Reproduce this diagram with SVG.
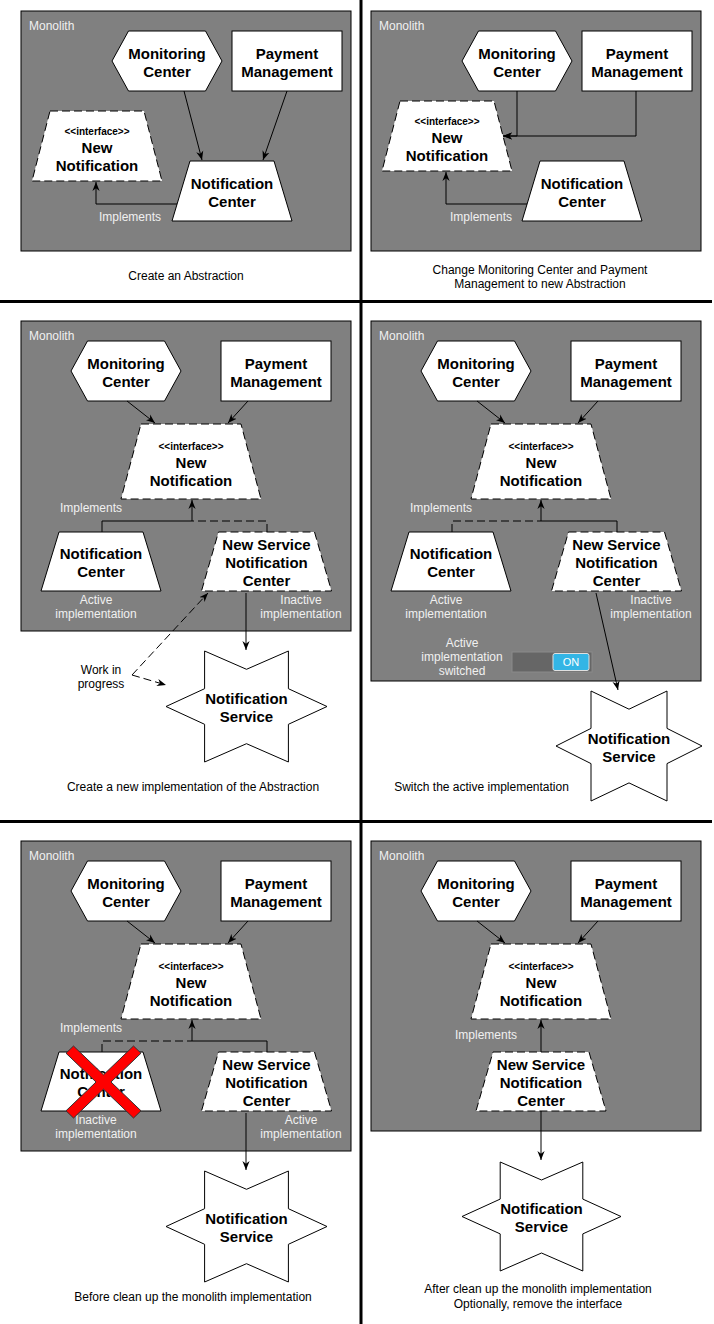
<svg xmlns="http://www.w3.org/2000/svg" width="714" height="1324" viewBox="0 0 714 1324">
<style>
.mono{fill:#808080;stroke:#000;stroke-width:1}
.box{fill:#fff;stroke:#000;stroke-width:1}
.dbox{fill:#fff;stroke:#000;stroke-width:1;stroke-dasharray:8 4}
.node{font-family:"Liberation Sans",Arial,sans-serif;font-weight:bold;font-size:15px;fill:#000;text-anchor:middle}
.stereo{font-family:"Liberation Sans",Arial,sans-serif;font-weight:bold;font-size:10px;fill:#000;text-anchor:middle}
.lbl{font-family:"Liberation Sans",Arial,sans-serif;font-size:12px;fill:#f0f0f0;text-anchor:middle}
.mlbl{font-family:"Liberation Sans",Arial,sans-serif;font-size:12px;fill:#f0f0f0}
.cap{font-family:"Liberation Sans",Arial,sans-serif;font-size:12px;fill:#000;text-anchor:middle}
.edge{fill:none;stroke:#000;stroke-width:1}
.arr{marker-end:url(#ah)}
.dash{stroke-dasharray:8 4}
.div{stroke:#000;stroke-width:3}
</style>
<defs>
<marker id="ah" viewBox="0 0 10 10" refX="10" refY="5" markerWidth="9" markerHeight="9" markerUnits="userSpaceOnUse" orient="auto">
<path d="M0,1 L10,5 L0,9 L3,5 z" fill="#000"/>
</marker>
</defs>
<rect width="714" height="1324" fill="#fff"/>

<g id="dividers">
<line class="div" x1="361" y1="0" x2="361" y2="1324"/>
<line class="div" x1="0" y1="301.5" x2="712" y2="301.5"/>
<line class="div" x1="0" y1="821.5" x2="712" y2="821.5"/>
</g>

<!-- Panel 1 -->
<g id="monolith1"><rect class="mono" x="21" y="11" width="330" height="240"/><text class="mlbl" x="29" y="30">Monolith</text></g>
<g id="mc1"><polygon class="box" points="112,61 128.5,31 205.5,31 222,61 205.5,91 128.5,91"/><text class="node" x="167" y="59">Monitoring</text><text class="node" x="167" y="77">Center</text></g>
<g id="pm1"><rect class="box" x="232" y="31" width="110" height="60"/><text class="node" x="287" y="59">Payment</text><text class="node" x="287" y="77">Management</text></g>
<g id="nn1"><polygon class="dbox" points="50,111 144,111 162,181 32,181"/><text class="stereo" x="97" y="135">&lt;&lt;interface&gt;&gt;</text><text class="node" x="97" y="153">New</text><text class="node" x="97" y="171">Notification</text></g>
<g id="nc1"><polygon class="box" points="190,161 274,161 292,221 172,221"/><text class="node" x="232" y="189">Notification</text><text class="node" x="232" y="207">Center</text></g>
<g id="labels1"><text class="lbl" x="130" y="221">Implements</text><text class="cap" x="186" y="280">Create an Abstraction</text></g>

<!-- Panel 2 -->
<g id="monolith2"><rect class="mono" x="371" y="11" width="330" height="240"/><text class="mlbl" x="379" y="30">Monolith</text></g>
<g id="mc2"><polygon class="box" points="462,61 478.5,31 555.5,31 572,61 555.5,91 478.5,91"/><text class="node" x="517" y="59">Monitoring</text><text class="node" x="517" y="77">Center</text></g>
<g id="pm2"><rect class="box" x="582" y="31" width="110" height="60"/><text class="node" x="637" y="59">Payment</text><text class="node" x="637" y="77">Management</text></g>
<g id="nn2"><polygon class="dbox" points="400,101 494,101 512,171 382,171"/><text class="stereo" x="447" y="125">&lt;&lt;interface&gt;&gt;</text><text class="node" x="447" y="143">New</text><text class="node" x="447" y="161">Notification</text></g>
<g id="nc2"><polygon class="box" points="540,161 624,161 642,221 522,221"/><text class="node" x="582" y="189">Notification</text><text class="node" x="582" y="207">Center</text></g>
<g id="labels2"><text class="lbl" x="481" y="221">Implements</text><text class="cap" x="540" y="274">Change Monitoring Center and Payment</text><text class="cap" x="540" y="288">Management to new Abstraction</text></g>

<!-- Panel 3 -->
<g id="monolith3"><rect class="mono" x="21" y="321" width="330" height="310"/><text class="mlbl" x="29" y="340">Monolith</text></g>
<g id="mc3"><polygon class="box" points="71,371 87.5,341 164.5,341 181,371 164.5,401 87.5,401"/><text class="node" x="126" y="369">Monitoring</text><text class="node" x="126" y="387">Center</text></g>
<g id="pm3"><rect class="box" x="221" y="341" width="110" height="60"/><text class="node" x="276" y="369">Payment</text><text class="node" x="276" y="387">Management</text></g>
<g id="nn3"><polygon class="dbox" points="141,424 241,424 261,499 121,499"/><text class="stereo" x="191" y="450">&lt;&lt;interface&gt;&gt;</text><text class="node" x="191" y="468">New</text><text class="node" x="191" y="486">Notification</text></g>
<g id="nc3"><polygon class="box" points="59,532 143,532 161,591 41,591"/><text class="node" x="101" y="559">Notification</text><text class="node" x="101" y="577">Center</text></g>
<g id="nsnc3"><polygon class="dbox" points="218.5,532 314.5,532 331.5,591 201.5,591"/><text class="node" x="266.5" y="550">New Service</text><text class="node" x="266.5" y="568">Notification</text><text class="node" x="266.5" y="586">Center</text></g>
<g id="ns3"><polygon class="box" points="204.6,651 246.5,669.3 288.4,651 288.4,688.7 327,706.5 288.4,724.3 288.4,762 246.5,743.7 204.6,762 204.6,724.3 166,706.5 204.6,688.7"/><text class="node" x="246.5" y="704">Notification</text><text class="node" x="246.5" y="722">Service</text></g>
<g id="labels3">
<text class="lbl" x="91" y="512">Implements</text>
<text class="lbl" x="96" y="603.5">Active</text><text class="lbl" x="96" y="617.5">implementation</text>
<text class="lbl" x="301" y="603.5">Inactive</text><text class="lbl" x="301" y="617.5">implementation</text>
<text class="cap" x="101" y="674">Work in</text><text class="cap" x="101" y="688">progress</text>
<text class="cap" x="193" y="791">Create a new implementation of the Abstraction</text>
</g>

<!-- Panel 4 -->
<g id="monolith4"><rect class="mono" x="371" y="321" width="330" height="360"/><text class="mlbl" x="379" y="340">Monolith</text></g>
<g id="mc4"><polygon class="box" points="421,371 437.5,341 514.5,341 531,371 514.5,401 437.5,401"/><text class="node" x="476" y="369">Monitoring</text><text class="node" x="476" y="387">Center</text></g>
<g id="pm4"><rect class="box" x="571" y="341" width="110" height="60"/><text class="node" x="626" y="369">Payment</text><text class="node" x="626" y="387">Management</text></g>
<g id="nn4"><polygon class="dbox" points="491,424 591,424 611,499 471,499"/><text class="stereo" x="541" y="450">&lt;&lt;interface&gt;&gt;</text><text class="node" x="541" y="468">New</text><text class="node" x="541" y="486">Notification</text></g>
<g id="nc4"><polygon class="box" points="409,532 493,532 511,591 391,591"/><text class="node" x="451" y="559">Notification</text><text class="node" x="451" y="577">Center</text></g>
<g id="nsnc4"><polygon class="dbox" points="568.5,532 664.5,532 681.5,591 551.5,591"/><text class="node" x="616.5" y="550">New Service</text><text class="node" x="616.5" y="568">Notification</text><text class="node" x="616.5" y="586">Center</text></g>
<g id="toggle4"><rect x="512" y="652" width="80" height="20" fill="#666" stroke="#8a8a8a" stroke-width="1"/><rect x="553" y="653.5" width="36" height="17" rx="2" fill="#33b5e5" stroke="#e0e0e0" stroke-width="1"/><text x="571" y="666" font-family="'Liberation Sans',Arial,sans-serif" font-size="11" fill="#fff" text-anchor="middle">ON</text></g>
<g id="ns4"><polygon class="box" points="591,691 629,709.2 667,691 667,728.4 702,746 667,763.6 667,801 629,782.9 591,801 591,763.6 556,746 591,728.4"/><text class="node" x="629" y="744">Notification</text><text class="node" x="629" y="762">Service</text></g>
<g id="labels4">
<text class="lbl" x="441" y="512">Implements</text>
<text class="lbl" x="446" y="603.5">Active</text><text class="lbl" x="446" y="617.5">implementation</text>
<text class="lbl" x="651" y="603.5">Inactive</text><text class="lbl" x="651" y="617.5">implementation</text>
<text class="lbl" x="462" y="647">Active</text><text class="lbl" x="462" y="661">implementation</text><text class="lbl" x="462" y="675">switched</text>
<text class="cap" x="481.5" y="791">Switch the active implementation</text>
</g>

<!-- Panel 5 -->
<g id="monolith5"><rect class="mono" x="21" y="841" width="330" height="310"/><text class="mlbl" x="29" y="860">Monolith</text></g>
<g id="mc5"><polygon class="box" points="71,891 87.5,861 164.5,861 181,891 164.5,921 87.5,921"/><text class="node" x="126" y="889">Monitoring</text><text class="node" x="126" y="907">Center</text></g>
<g id="pm5"><rect class="box" x="221" y="861" width="110" height="60"/><text class="node" x="276" y="889">Payment</text><text class="node" x="276" y="907">Management</text></g>
<g id="nn5"><polygon class="dbox" points="141,944 241,944 261,1019 121,1019"/><text class="stereo" x="191" y="970">&lt;&lt;interface&gt;&gt;</text><text class="node" x="191" y="988">New</text><text class="node" x="191" y="1006">Notification</text></g>
<g id="nc5"><polygon class="box" points="59,1052 143,1052 161,1111 41,1111"/><text class="node" x="101" y="1079">Notification</text><text class="node" x="101" y="1097">Center</text></g>
<g id="nsnc5"><polygon class="dbox" points="218.5,1052 314.5,1052 331.5,1111 201.5,1111"/><text class="node" x="266.5" y="1070">New Service</text><text class="node" x="266.5" y="1088">Notification</text><text class="node" x="266.5" y="1106">Center</text></g>
<g id="ns5"><polygon class="box" points="204.6,1171 246.5,1189.3 288.4,1171 288.4,1208.7 327,1226.5 288.4,1244.3 288.4,1282 246.5,1263.7 204.6,1282 204.6,1244.3 166,1226.5 204.6,1208.7"/><text class="node" x="246.5" y="1224">Notification</text><text class="node" x="246.5" y="1242">Service</text></g>
<g id="labels5">
<text class="lbl" x="91" y="1032">Implements</text>
<text class="lbl" x="96" y="1123.5">Inactive</text><text class="lbl" x="96" y="1137.5">implementation</text>
<text class="lbl" x="301" y="1123.5">Active</text><text class="lbl" x="301" y="1137.5">implementation</text>
<text class="cap" x="193" y="1301">Before clean up the monolith implementation</text>
</g>
<g id="redx5"><polygon points="73.5,1046 103.5,1074.8 133.5,1046 141,1053.2 111,1082 141,1110.8 133.5,1118 103.5,1089.2 73.5,1118 66,1110.8 96,1082 66,1053.2" fill="#ff0000" stroke="#333" stroke-width="1"/></g>

<!-- Panel 6 -->
<g id="monolith6"><rect class="mono" x="371" y="841" width="330" height="290"/><text class="mlbl" x="379" y="860">Monolith</text></g>
<g id="mc6"><polygon class="box" points="421,891 437.5,861 514.5,861 531,891 514.5,921 437.5,921"/><text class="node" x="476" y="889">Monitoring</text><text class="node" x="476" y="907">Center</text></g>
<g id="pm6"><rect class="box" x="571" y="861" width="110" height="60"/><text class="node" x="626" y="889">Payment</text><text class="node" x="626" y="907">Management</text></g>
<g id="nn6"><polygon class="dbox" points="491,944 591,944 611,1019 471,1019"/><text class="stereo" x="541" y="970">&lt;&lt;interface&gt;&gt;</text><text class="node" x="541" y="988">New</text><text class="node" x="541" y="1006">Notification</text></g>
<g id="nsnc6"><polygon class="dbox" points="493,1052 589,1052 606,1111 476,1111"/><text class="node" x="541" y="1070">New Service</text><text class="node" x="541" y="1088">Notification</text><text class="node" x="541" y="1106">Center</text></g>
<g id="ns6"><polygon class="box" points="500.2,1162 541.5,1180 582.8,1162 582.8,1199.1 621,1216.5 582.8,1233.9 582.8,1271 541.5,1253 500.2,1271 500.2,1233.9 462,1216.5 500.2,1199.1"/><text class="node" x="541.5" y="1214">Notification</text><text class="node" x="541.5" y="1232">Service</text></g>
<g id="labels6">
<text class="lbl" x="486" y="1039">Implements</text>
<text class="cap" x="538" y="1293">After clean up the monolith implementation</text>
<text class="cap" x="538" y="1308">Optionally, remove the interface</text>
</g>

<g id="connectors">
<!-- panel 1 -->
<path class="edge arr" d="M184,91 L202,160"/>
<path class="edge arr" d="M287,91 L263,160"/>
<path class="edge arr" d="M177,204 H96 V182"/>
<!-- panel 2 -->
<path class="edge arr" d="M517,91 V136 H503"/>
<path class="edge arr" d="M636,91 V136 H503"/>
<path class="edge arr" d="M527,204 H446 V172"/>
<!-- panel 3 -->
<path class="edge arr" d="M127,401 L155,423"/>
<path class="edge arr" d="M248,401 L228,423"/>
<path class="edge arr" d="M102,532 V521 H192 V500"/>
<path class="edge dash" d="M267,532 V521 H192"/>
<path class="edge arr" d="M246,593 V650"/>
<path class="edge dash arr" d="M132,675 L208,593"/>
<path class="edge dash arr" d="M132,675 L166,685"/>
<!-- panel 4 -->
<path class="edge arr" d="M477,401 L505,423"/>
<path class="edge arr" d="M598,401 L578,423"/>
<path class="edge arr" d="M617,532 V521 H541 V500"/>
<path class="edge dash" d="M452,532 V521 H541"/>
<path class="edge arr" d="M596,593 L618,690"/>
<!-- panel 5 -->
<path class="edge arr" d="M127,921 L155,943"/>
<path class="edge arr" d="M248,921 L228,943"/>
<path class="edge arr" d="M267,1052 V1041 H192 V1020"/>
<path class="edge dash" d="M102,1052 V1041 H192"/>
<path class="edge arr" d="M246,1113 V1170"/>
<!-- panel 6 -->
<path class="edge arr" d="M477,921 L505,943"/>
<path class="edge arr" d="M598,921 L578,943"/>
<path class="edge arr" d="M541,1052 V1020"/>
<path class="edge arr" d="M541,1111 V1160"/>
</g>
</svg>
